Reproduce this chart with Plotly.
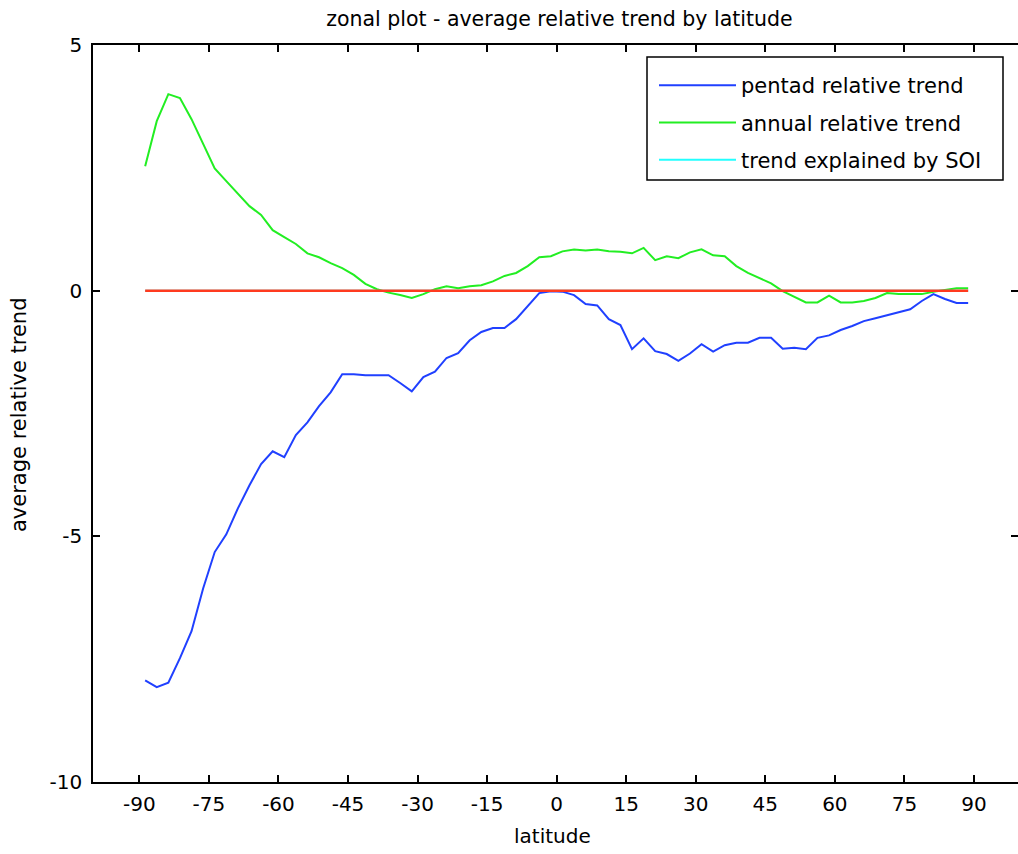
import numpy as np
import plotly.graph_objects as go

latitude = np.arange(-88.75, 90, 2.5)

pentad_trend = [-7.93, -8.07, -7.98, -7.48, -6.93, -6.06, -5.32, -4.96, -4.43, -3.96,
                -3.53, -3.27, -3.39, -2.94, -2.68, -2.35, -2.07, -1.70, -1.70, -1.72,
                -1.72, -1.72, -1.88, -2.05, -1.76, -1.65, -1.37, -1.27, -1.01, -0.84,
                -0.76, -0.76, -0.58, -0.32, -0.05, -0.01, -0.02, -0.09, -0.27, -0.30,
                -0.58, -0.70, -1.19, -0.97, -1.23, -1.29, -1.43, -1.28, -1.09, -1.24,
                -1.11, -1.06, -1.06, -0.96, -0.96, -1.18, -1.16, -1.19, -0.96, -0.91,
                -0.80, -0.72, -0.62, -0.56, -0.50, -0.44, -0.38, -0.21, -0.07, -0.17,
                -0.25, -0.25]

annual_trend = [2.53, 3.45, 4.00, 3.92, 3.49, 2.98, 2.49, 2.23, 1.98, 1.72,
                1.54, 1.23, 1.09, 0.95, 0.76, 0.68, 0.56, 0.46, 0.32, 0.14,
                0.03, -0.04, -0.09, -0.15, -0.07, 0.03, 0.09, 0.05, 0.09, 0.11,
                0.19, 0.30, 0.36, 0.50, 0.68, 0.70, 0.80, 0.84, 0.82, 0.84,
                0.80, 0.79, 0.76, 0.87, 0.62, 0.70, 0.66, 0.78, 0.84, 0.72,
                0.70, 0.50, 0.36, 0.25, 0.15, -0.01, -0.13, -0.24, -0.24, -0.10,
                -0.24, -0.24, -0.21, -0.15, -0.05, -0.07, -0.07, -0.07, -0.02, 0.02,
                0.05, 0.05]

soi_trend = [0.0] * len(latitude)
zero_line = [0.0] * len(latitude)

x_ticks = [-90, -75, -60, -45, -30, -15, 0, 15, 30, 45, 60, 75, 90]
x_tick_text = ["-90", "-75", "-60", "-45", "-30", "-15", "0", "15", "30", "45", "60", "75", "90"]
y_ticks = [-10, -5, 0, 5]
y_tick_text = ["-10", "-5", "0", "5"]

FONT = "DejaVu Sans"
W, H = 1018, 854
ML, MR, MT, MB = 93, 0, 45, 72
PW, PH = W - ML - MR, H - MT - MB


def px_x(p):
    return (p - ML) / PW


def px_y(p):
    return 1 - (p - MT) / PH


fig = go.Figure()
fig.add_trace(go.Scatter(x=latitude, y=pentad_trend, mode="lines",
                         name="pentad relative trend", legendgroup="a",
                         line=dict(color="#2040ff", width=2)))
fig.add_trace(go.Scatter(x=latitude, y=annual_trend, mode="lines",
                         name="annual relative trend", legendgroup="b",
                         line=dict(color="#22ee22", width=2)))
fig.add_trace(go.Scatter(x=latitude, y=soi_trend, mode="lines",
                         name="trend explained by SOI", legendgroup="c",
                         line=dict(color="#22ffff", width=2)))
fig.add_trace(go.Scatter(x=latitude, y=zero_line, mode="lines",
                         showlegend=False,
                         line=dict(color="#ff3a1f", width=2.5)))

fig.update_layout(
    width=W, height=H,
    margin=dict(l=ML, r=MR, t=MT, b=MB, pad=0, autoexpand=False),
    paper_bgcolor="white", plot_bgcolor="white",
    font=dict(family=FONT, size=20, color="black"),
    title=dict(text="zonal plot - average relative trend by latitude",
               x=0.5495, xanchor="center", y=0.9865, yanchor="top",
               font=dict(family=FONT, size=20.5, color="black")),
    showlegend=True,
    legend=dict(x=px_x(654), xanchor="left", y=px_y(65), yanchor="top",
                bgcolor="rgba(0,0,0,0)", borderwidth=0,
                font=dict(family=FONT, size=21, color="black"),
                itemwidth=77, traceorder="grouped", tracegroupgap=7),
    shapes=[dict(type="rect", xref="paper", yref="paper",
                 x0=px_x(647), x1=px_x(1003), y0=px_y(180), y1=px_y(57),
                 line=dict(color="black", width=1.5), fillcolor="white", layer="above")],
    xaxis=dict(range=[-100, 99.5], tickmode="array", tickvals=x_ticks, ticktext=x_tick_text,
               ticks="inside", ticklen=7, tickwidth=1.5, tickcolor="black",
               showline=True, linecolor="black", linewidth=1.5, mirror="ticks",
               showgrid=False, zeroline=False, automargin=False, ticklabelstandoff=3,
               tickfont=dict(family=FONT, size=20)),
    yaxis=dict(range=[-10, 5], tickmode="array", tickvals=y_ticks, ticktext=y_tick_text,
               ticks="inside", ticklen=7, tickwidth=1.5, tickcolor="black",
               showline=True, linecolor="black", linewidth=1.5, mirror="ticks",
               showgrid=False, zeroline=False, automargin=False, ticklabelstandoff=5,
               tickfont=dict(family=FONT, size=20)),
    annotations=[
        dict(text="latitude", xref="paper", yref="paper", x=px_x(552), y=px_y(836),
             xanchor="center", yanchor="middle", showarrow=False,
             font=dict(family=FONT, size=20)),
        dict(text="average relative trend", xref="paper", yref="paper", x=-0.08, y=px_y(415),
             xanchor="center", yanchor="middle", showarrow=False, textangle=-90,
             font=dict(family=FONT, size=21)),
    ],
)

fig.write_html("out.html", config={"displayModeBar": False},
               post_script="document.body.style.margin='0';")
